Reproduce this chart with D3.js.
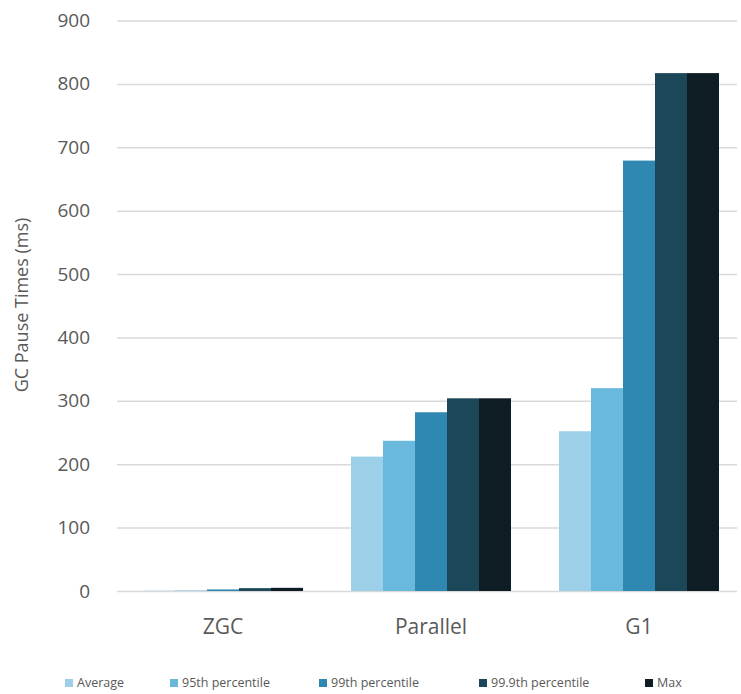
<!DOCTYPE html>
<html>
<head>
<meta charset="utf-8">
<script src="https://cdn.jsdelivr.net/npm/d3@7/dist/d3.min.js"></script>
<style>
  html, body { margin: 0; padding: 0; background: #fff; }
  svg { display: block; }
  svg text { font-family: "Open Sans", "Noto Sans", sans-serif; }
</style>
</head>
<body>
<svg id="chart" width="741" height="694"></svg>
<script>
// Collectors compared
const categories = ["ZGC", "Parallel", "G1"];
// Pause-time statistics (ms)
const seriesNames = ["Average", "95th percentile", "99th percentile", "99.9th percentile", "Max"];
const average    = [0.5, 212, 252];
const p95        = [0.8, 237, 320];
const p99        = [2.5, 282, 679];
const p999       = [4.5, 304, 817];
const maxPause   = [5, 304, 817];
const seriesValues = [average, p95, p99, p999, maxPause];
const seriesColors = ["#9ccfe8", "#6bb8dd", "#2e88b2", "#1c4759", "#0e1c23"];
const yTicks = [0, 100, 200, 300, 400, 500, 600, 700, 800, 900];

const svg = d3.select("#chart");
const textColor = "#595959";
const fontFamily = "'Open Sans', 'Noto Sans', sans-serif";

const y = d3.scaleLinear().domain([0, 900]).range([591, 20.5]);
const x0 = d3.scaleBand().domain(categories).range([119, 743]).padding(0);
const x1 = d3.scaleBand().domain(seriesNames).range([0, x0.bandwidth()])
  .paddingInner(0).paddingOuter(0.75);

// Gridlines and value labels
const gridLeft = 117, gridRight = 737;
const yAxis = svg.append("g")
  .attr("transform", `translate(${gridLeft},0)`)
  .call(d3.axisLeft(y).tickValues(yTicks).tickSize(-(gridRight - gridLeft)).tickPadding(27));
yAxis.attr("font-family", fontFamily);
yAxis.select(".domain").remove();
yAxis.selectAll(".tick line").attr("stroke", "#d9d9d9").attr("stroke-width", 1.5);
yAxis.selectAll(".tick text")
  .attr("fill", textColor)
  .style("font-size", "19px");

// Grouped bars
const groups = svg.append("g").selectAll("g")
  .data(categories)
  .join("g")
  .attr("transform", d => `translate(${x0(d)},0)`);

groups.selectAll("rect")
  .data((c, ci) => seriesNames.map((s, si) => ({ s, v: seriesValues[si][ci], color: seriesColors[si] })))
  .join("rect")
  .attr("x", d => x1(d.s))
  .attr("width", x1.bandwidth())
  .attr("y", d => y(d.v))
  .attr("height", d => y(0) - y(d.v))
  .attr("fill", d => d.color);

// Category labels
const xAxis = svg.append("g")
  .attr("transform", `translate(0,${y(0)})`)
  .call(d3.axisBottom(x0).tickSize(0).tickPadding(28));
xAxis.attr("font-family", fontFamily);
xAxis.select(".domain").remove();
xAxis.selectAll(".tick text")
  .attr("fill", textColor)
  .style("font-size", "21px");

// Axis title
svg.append("text")
  .attr("transform", "translate(28,305) rotate(-90)")
  .attr("text-anchor", "middle")
  .attr("fill", textColor)
  .style("font-size", "18px")
  .text("GC Pause Times (ms)");

// Legend
const legendX = [69, 174, 323, 483, 649];
const legend = svg.append("g").selectAll("g")
  .data(seriesNames)
  .join("g")
  .attr("transform", (d, i) => `translate(${legendX[i]},683)`);
legend.append("rect")
  .attr("x", -4).attr("y", -4).attr("width", 8).attr("height", 8)
  .attr("fill", (d, i) => seriesColors[i]);
legend.append("text")
  .attr("x", 8)
  .attr("dy", "0.35em")
  .attr("fill", textColor)
  .style("font-size", "12.5px")
  .text(d => d);
</script>
</body>
</html>
